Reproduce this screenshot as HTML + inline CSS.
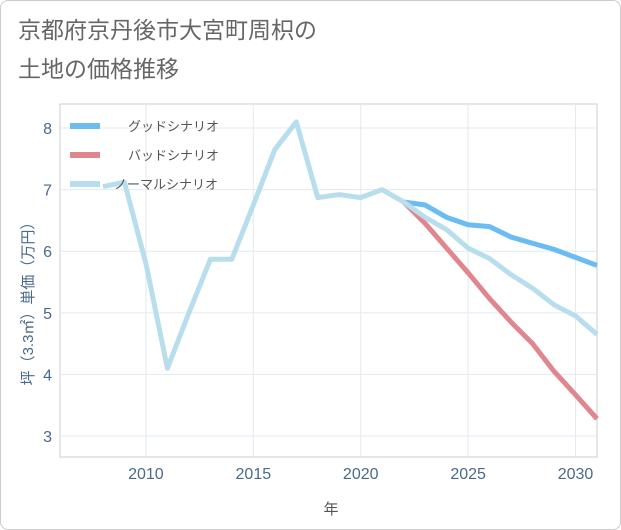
<!DOCTYPE html>
<html><head><meta charset="utf-8"><style>
body{margin:0;background:#fff;}
.card{position:absolute;left:0;top:0;width:619px;height:528px;border:1px solid #ccc;border-radius:8px;background:#fff;}
text{font-family:"Liberation Sans","Noto Sans CJK JP",sans-serif;}
</style></head><body>
<div class="card"></div>
<svg id="c" width="621" height="530" style="position:absolute;left:0;top:0">
<text x="18" y="38" font-size="23" fill="#666">京都府京丹後市大宮町周枳の</text>
<text x="18" y="77" font-size="23" fill="#666">土地の価格推移</text>
<g id="grid"></g><g id="series"></g><g id="legend"></g>
<text x="331" y="514" font-size="15" fill="#555" text-anchor="middle">年</text>
<text transform="translate(33,300) rotate(-90)" font-size="15" fill="#4a6a8a" text-anchor="middle">坪（3.3㎡）単価（万円）</text>
</svg>
<script>
const xTicks=[2010,2015,2020,2025,2030];
const yTicks=[3,4,5,6,7,8];
const normalYears=[2008,2009,2010,2011,2012,2013,2014,2015,2016,2017,2018,2019,2020,2021,2022,2023,2024,2025,2026,2027,2028,2029,2030,2031];
const normalVals=[7.05,7.12,5.8,4.1,5.0,5.87,5.87,6.75,7.65,8.1,6.87,6.92,6.87,7.0,6.8,6.55,6.35,6.05,5.88,5.62,5.4,5.13,4.95,4.65];
const projYears=[2022,2023,2024,2025,2026,2027,2028,2029,2030,2031];
const goodVals=[6.8,6.75,6.55,6.43,6.4,6.23,6.13,6.03,5.9,5.77];
const badVals=[6.8,6.45,6.05,5.65,5.23,4.85,4.5,4.05,3.67,3.28];
const L=60,R=597,T=104,B=457;
const x=v=>L+(v-2006)*(R-L)/25;
const y=v=>B-(v-2.66)*(B-T)/(8.39-2.66);
const NS="http://www.w3.org/2000/svg";
function mk(tag,attrs,parent){const e=document.createElementNS(NS,tag);for(const k in attrs)e.setAttribute(k,attrs[k]);document.getElementById(parent).appendChild(e);return e;}
const r=mk('rect',{x:L,y:T,width:R-L,height:B-T,fill:'none',stroke:'#ccc'},'grid');


xTicks.forEach(t=>{
 const l=mk('line',{x1:x(t),x2:x(t),y1:T,y2:B,stroke:'#e3eaf0'},'grid');
 
 
 const tx=mk('text',{x:x(t),y:479,'font-size':16,fill:'#4a6a8a','text-anchor':'middle'},'grid');tx.textContent=t;
 
 
});
yTicks.forEach(t=>{
 const l=mk('line',{x1:L,x2:R,y1:y(t),y2:y(t),stroke:'#e3eaf0'},'grid');
 
 
 const tx=mk('text',{x:52,y:y(t)+6,'font-size':16,fill:'#4a6a8a','text-anchor':'end'},'grid');tx.textContent=t;
 
 
});
function line(xs,vs,color,name){
 const p=mk('polyline',{points:xs.map((a,i)=>x(a)+','+y(vs[i])).join(' '),fill:'none',stroke:color,'stroke-width':5,'stroke-linejoin':'round'},'series');
 
 
}
line(projYears,goodVals,'#6bbcf0','good-scenario-line');
line(projYears,badVals,'#e0868e','bad-scenario-line');
line(normalYears,normalVals,'#b8deee','normal-scenario-line');
[['グッドシナリオ','#6bbcf0'],['バッドシナリオ','#e0868e'],['ノーマルシナリオ','#b8deee']].forEach((d,i)=>{
 const yy=126+i*29;
 const l=mk('line',{x1:70,x2:100,y1:yy,y2:yy,stroke:d[1],'stroke-width':6},'legend');
 
 
 const t=mk('text',{x:i==2?114:128,y:yy+5,'font-size':13,fill:'#555'},'legend');t.textContent=d[0];
 
 
});
</script>
</body></html>
